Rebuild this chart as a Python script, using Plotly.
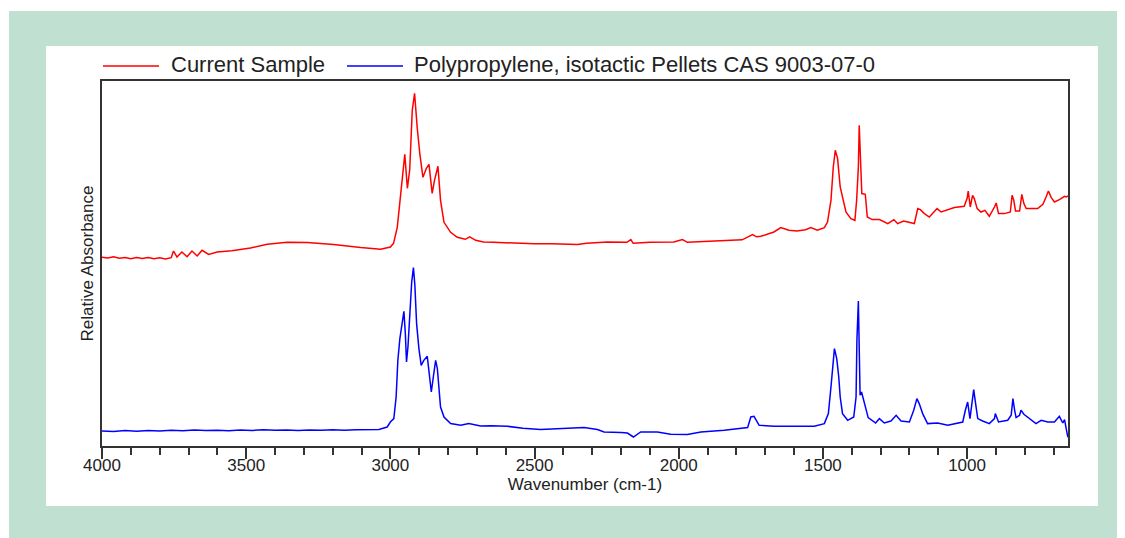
import plotly.graph_objects as go

# ---------------- data ----------------
sample_wn = [4000, 3980, 3960, 3940, 3920, 3900, 3880, 3860, 3840, 3820, 3800, 3780, 3760, 3752, 3740,
             3723, 3705, 3688, 3670, 3653, 3630, 3601, 3550, 3485, 3427, 3358, 3288, 3197, 3103, 3034,
             3000, 2989, 2976, 2965, 2955, 2950, 2941, 2933, 2924, 2916, 2907, 2898, 2887, 2875, 2866,
             2855, 2847, 2835, 2826, 2814, 2791, 2768, 2740, 2725, 2704, 2677, 2642, 2600, 2548, 2500,
             2440, 2400, 2351, 2320, 2247, 2180, 2166, 2158, 2100, 2017, 1987, 1970, 1900, 1843, 1780,
             1744, 1730, 1715, 1690, 1670, 1646, 1618, 1590, 1560, 1542, 1519, 1495, 1484, 1472, 1464,
             1457, 1449, 1440, 1432, 1420, 1403, 1389, 1383, 1377, 1374, 1370, 1365, 1353, 1346, 1329,
             1304, 1275, 1254, 1241, 1220, 1183, 1171, 1162, 1148, 1131, 1104, 1090, 1044, 1010, 1000,
             996, 989, 981, 975, 965, 952, 938, 923, 905, 899, 891, 870, 850, 844, 838,
             832, 818, 810, 803, 795, 755, 737, 726, 718, 708, 697, 680, 662, 656, 650]
sample_abs = [1.887, 1.880, 1.892, 1.878, 1.885, 1.873, 1.884, 1.876, 1.886, 1.872, 1.882, 1.870, 1.883, 1.950, 1.890,
              1.940, 1.893, 1.950, 1.900, 1.957, 1.915, 1.940, 1.952, 1.980, 2.017, 2.037, 2.034, 2.014, 1.984, 1.967,
              1.990, 2.027, 2.187, 2.487, 2.787, 2.917, 2.577, 2.757, 3.357, 3.527, 3.187, 2.927, 2.687, 2.777, 2.817,
              2.527, 2.657, 2.797, 2.457, 2.237, 2.137, 2.087, 2.067, 2.092, 2.057, 2.040, 2.037, 2.032, 2.024, 2.022,
              2.022, 2.022, 2.015, 2.027, 2.040, 2.037, 2.064, 2.027, 2.037, 2.040, 2.064, 2.037, 2.047, 2.057, 2.062,
              2.114, 2.092, 2.097, 2.122, 2.140, 2.184, 2.157, 2.150, 2.162, 2.184, 2.157, 2.184, 2.240, 2.457, 2.790,
              2.957, 2.874, 2.590, 2.490, 2.340, 2.274, 2.257, 2.457, 2.790, 3.207, 2.874, 2.524, 2.517, 2.290, 2.264,
              2.264, 2.224, 2.264, 2.224, 2.250, 2.224, 2.374, 2.364, 2.324, 2.290, 2.374, 2.340, 2.384, 2.397, 2.474,
              2.550, 2.390, 2.507, 2.474, 2.374, 2.340, 2.357, 2.297, 2.390, 2.430, 2.324, 2.324, 2.340, 2.507, 2.457,
              2.350, 2.350, 2.517, 2.424, 2.374, 2.374, 2.417, 2.490, 2.550, 2.484, 2.440, 2.464, 2.497, 2.490, 2.502]

ref_wn = [4000, 3960, 3920, 3880, 3840, 3800, 3760, 3720, 3680, 3640, 3600, 3560, 3520, 3480, 3440,
          3400, 3360, 3320, 3280, 3240, 3200, 3160, 3120, 3080, 3040, 3034, 3011, 3000, 2988, 2980,
          2974, 2967, 2959, 2953, 2948, 2944, 2939, 2932, 2926, 2920, 2915, 2909, 2901, 2893, 2884,
          2872, 2865, 2858, 2851, 2843, 2837, 2832, 2826, 2814, 2791, 2756, 2728, 2687, 2650, 2594,
          2540, 2479, 2400, 2328, 2282, 2259, 2200, 2178, 2157, 2132, 2074, 2028, 1970, 1923, 1842,
          1761, 1750, 1739, 1721, 1669, 1623, 1530, 1495, 1481, 1472, 1466, 1460, 1452, 1445, 1440,
          1432, 1414, 1393, 1385, 1382, 1377, 1374, 1371, 1366, 1359, 1351, 1343, 1317, 1304, 1287,
          1264, 1246, 1229, 1200, 1185, 1174, 1166, 1154, 1137, 1102, 1067, 1015, 1006, 998, 990,
          983, 977, 972, 963, 946, 923, 905, 902, 891, 859, 847, 841, 835, 830, 818,
          813, 803, 784, 761, 743, 720, 697, 680, 668, 662, 653, 650]
ref_abs = [0.150, 0.145, 0.155, 0.148, 0.156, 0.150, 0.157, 0.152, 0.160, 0.155, 0.158, 0.152, 0.160, 0.156, 0.162,
           0.157, 0.160, 0.155, 0.161, 0.158, 0.163, 0.158, 0.162, 0.160, 0.165, 0.170, 0.190, 0.240, 0.274, 0.490,
           0.857, 1.074, 1.240, 1.347, 1.124, 0.840, 0.990, 1.407, 1.640, 1.784, 1.607, 1.224, 0.974, 0.807, 0.857,
           0.897, 0.724, 0.540, 0.690, 0.857, 0.774, 0.590, 0.390, 0.290, 0.224, 0.207, 0.224, 0.200, 0.202, 0.197,
           0.177, 0.164, 0.172, 0.184, 0.164, 0.140, 0.134, 0.130, 0.090, 0.140, 0.140, 0.117, 0.114, 0.140, 0.157,
           0.184, 0.290, 0.297, 0.207, 0.197, 0.197, 0.197, 0.224, 0.324, 0.590, 0.824, 0.974, 0.874, 0.690, 0.490,
           0.324, 0.257, 0.290, 0.490, 1.057, 1.450, 1.024, 0.507, 0.540, 0.474, 0.374, 0.284, 0.230, 0.274, 0.230,
           0.250, 0.307, 0.250, 0.240, 0.357, 0.474, 0.424, 0.324, 0.224, 0.230, 0.207, 0.240, 0.357, 0.440, 0.274,
           0.424, 0.564, 0.457, 0.274, 0.250, 0.224, 0.274, 0.324, 0.240, 0.257, 0.307, 0.474, 0.357, 0.284, 0.307,
           0.357, 0.317, 0.274, 0.224, 0.257, 0.240, 0.240, 0.297, 0.230, 0.264, 0.124, 0.087]

series_names = ["Current Sample", "Polypropylene, isotactic Pellets CAS 9003-07-0"]
series_colors = ["#ff0000", "#0000ff"]
x_tick_values = [4000, 3500, 3000, 2500, 2000, 1500, 1000]
x_tick_labels = ["4000", "3500", "3000", "2500", "2000", "1500", "1000"]

# ---------------- figure ----------------
W, H = 1125, 538
L, R, T, B = 102, 1068, 81, 446  # plot area in pixels


def px(x):
    return (x - L) / (R - L)


def py(y):
    return (B - y) / (B - T)


fig = go.Figure()
fig.add_trace(go.Scatter(x=sample_wn, y=sample_abs, mode="lines", name=series_names[0],
                         line=dict(color=series_colors[0], width=1.5), showlegend=False))
fig.add_trace(go.Scatter(x=ref_wn, y=ref_abs, mode="lines", name=series_names[1],
                         line=dict(color=series_colors[1], width=1.5), showlegend=False))

font_family = "Arial, 'Liberation Sans', sans-serif"
text_color = "#222222"

shapes = [
    # green outer frame
    dict(type="rect", xref="paper", yref="paper", x0=px(9), x1=px(1117), y0=py(538), y1=py(11),
         fillcolor="#c0e0d2", line=dict(width=0), layer="below"),
    # white inner panel
    dict(type="rect", xref="paper", yref="paper", x0=px(46), x1=px(1098), y0=py(506), y1=py(46),
         fillcolor="white", line=dict(width=0), layer="below"),
    # legend line samples
    dict(type="line", xref="paper", yref="paper", x0=px(103), x1=px(159), y0=py(66), y1=py(66),
         line=dict(color=series_colors[0], width=1.5)),
    dict(type="line", xref="paper", yref="paper", x0=px(347), x1=px(403), y0=py(66), y1=py(66),
         line=dict(color=series_colors[1], width=1.5)),
]
annotations = [
    dict(text=series_names[0], xref="paper", yref="paper", x=px(169), y=py(65), xanchor="left",
         yanchor="middle", showarrow=False, font=dict(size=22, family=font_family, color=text_color)),
    dict(text=series_names[1], xref="paper", yref="paper", x=px(412), y=py(65), xanchor="left",
         yanchor="middle", showarrow=False, font=dict(size=22, family=font_family, color=text_color)),
]

fig.update_layout(
    width=W, height=H,
    margin=dict(l=L, r=W - R, t=T, b=H - B, pad=0),
    paper_bgcolor="white", plot_bgcolor="white",
    shapes=shapes, annotations=annotations,
    showlegend=False,
    font=dict(family=font_family, color=text_color),
)
fig.update_xaxes(
    range=[4000, 650], autorange=False,
    tickmode="array", tickvals=x_tick_values, ticktext=x_tick_labels,
    ticks="outside", ticklen=11, tickwidth=2, tickcolor="#333333",
    ticklabelstandoff=-8,
    minor=dict(dtick=100, tick0=0, ticks="outside", ticklen=7, tickwidth=2, tickcolor="#333333"),
    showline=True, linecolor="#333333", linewidth=2, mirror=True,
    showgrid=False, zeroline=False,
    tickfont=dict(size=17, color=text_color),
    title=dict(text="Wavenumber (cm-1)", font=dict(size=17, color=text_color), standoff=0),
    automargin=False,
)
fig.update_yaxes(
    range=[0, 3.65], autorange=False,
    showticklabels=False, ticks="",
    showline=True, linecolor="#333333", linewidth=2, mirror=True,
    showgrid=False, zeroline=False,
    title=dict(text="Relative Absorbance", font=dict(size=17, color=text_color), standoff=2),
    automargin=False,
)

fig.write_html("out.html")
